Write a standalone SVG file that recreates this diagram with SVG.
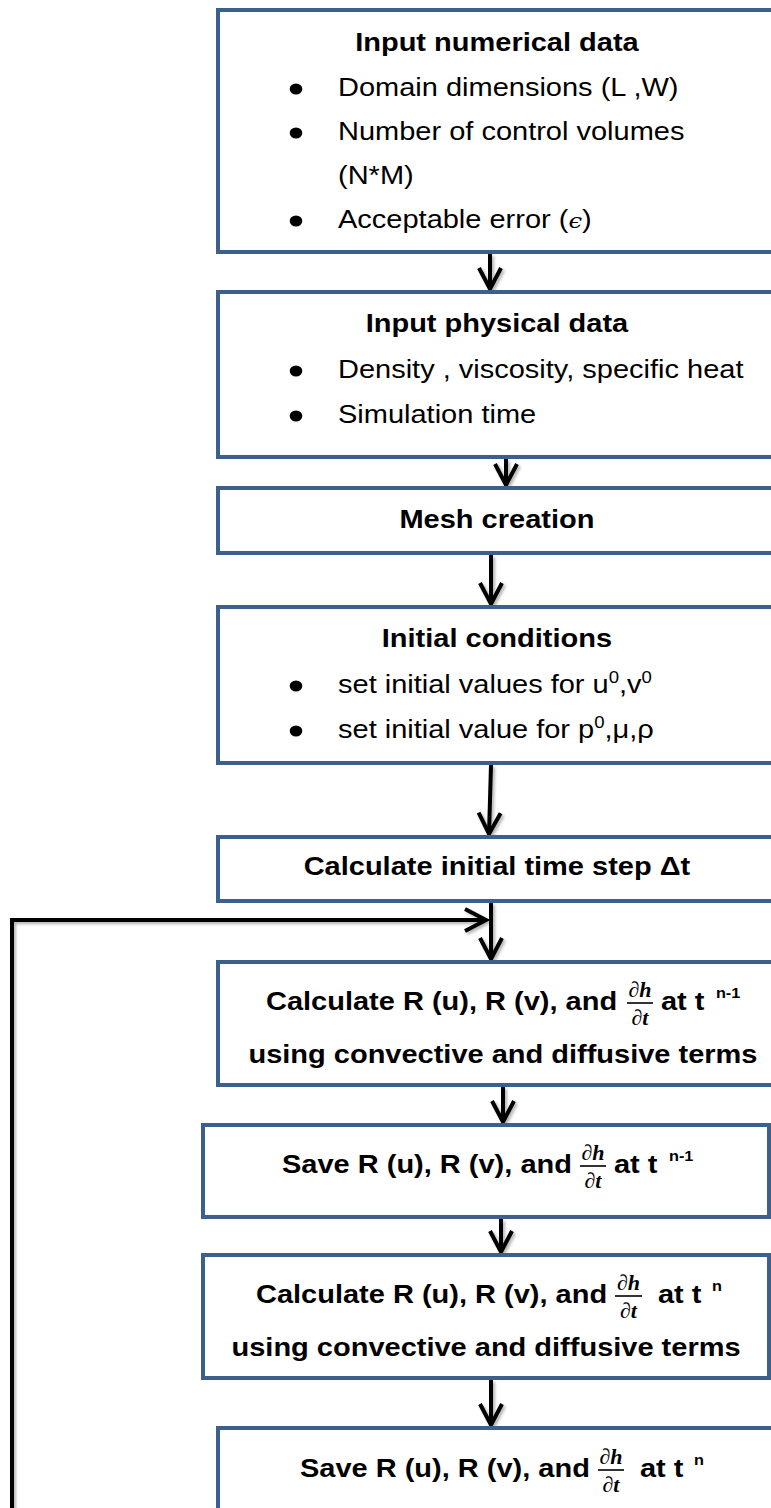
<svg xmlns="http://www.w3.org/2000/svg" width="771" height="1508" viewBox="0 0 771 1508">
  <style>
    .box{fill:#ffffff;stroke:#3c5f8c;stroke-width:4}
    .t{font-family:"Liberation Sans",Arial,sans-serif;font-size:25px;fill:#000}
    .b{font-weight:bold}
    .mid{text-anchor:middle}
    .dot{fill:#000}
    .sup{font-size:16px}
    .supb{font-size:14px;font-weight:bold}
    .m{font-family:"Liberation Serif","Times New Roman",serif;font-style:italic;font-weight:bold;font-size:22px;text-anchor:middle}
    .eps{font-family:"DejaVu Serif",serif;font-style:italic;font-size:21px}
    .bar{stroke:#000;stroke-width:1.6}
    .conn{fill:none;stroke:#000;stroke-width:4}
  </style>
  <defs>
    <marker id="arr" viewBox="-26 -15 30 30" refX="0" refY="0" markerWidth="30" markerHeight="30" markerUnits="userSpaceOnUse" orient="auto" overflow="visible">
      <path d="M-21,-11 L0,0 L-21,11" fill="none" stroke="#000" stroke-width="4"/>
    </marker>
    <filter id="sh" filterUnits="userSpaceOnUse" x="0" y="0" width="771" height="1508">
      <feDropShadow dx="2" dy="2" stdDeviation="1.5" flood-color="#000" flood-opacity="0.3"/>
    </filter>
  </defs>

  <!-- connectors -->
  <g id="connectors" filter="url(#sh)">
    <path class="conn" d="M490,254 L490,289" marker-end="url(#arr)"/>
    <path class="conn" d="M506,459 L506,485" marker-end="url(#arr)"/>
    <path class="conn" d="M491,555 L491,604" marker-end="url(#arr)"/>
    <path class="conn" d="M491,765 L489,834" marker-end="url(#arr)"/>
    <path class="conn" d="M491,903 L491,959" marker-end="url(#arr)"/>
    <path class="conn" d="M12,1510 L12,920 L486,920" marker-end="url(#arr)"/>
    <path class="conn" d="M503,1087 L503,1122" marker-end="url(#arr)"/>
    <path class="conn" d="M501,1219 L501,1252" marker-end="url(#arr)"/>
    <path class="conn" d="M491,1380 L491,1425" marker-end="url(#arr)"/>
  </g>

  <!-- input numerical data -->
  <g id="numerical">
    <rect class="box" x="218" y="10" width="600" height="242"/>
    <ellipse class="dot" cx="296" cy="89" rx="6.3" ry="5.6"/>
    <ellipse class="dot" cx="296" cy="133" rx="6.3" ry="5.6"/>
    <ellipse class="dot" cx="296" cy="221" rx="6.3" ry="5.6"/>
    <g transform="scale(1.16 1)">
      <text class="t b mid" x="428.4" y="51">Input numerical data</text>
      <text class="t" x="291.4" y="96">Domain dimensions (L ,W)</text>
      <text class="t" x="291.4" y="140">Number of control volumes</text>
      <text class="t" x="291.4" y="184">(N*M)</text>
      <text class="t" x="291.4" y="228">Acceptable error (<tspan class="eps">ϵ</tspan>)</text>
    </g>
  </g>

  <!-- input physical data -->
  <g id="physical">
    <rect class="box" x="218" y="292" width="600" height="165"/>
    <ellipse class="dot" cx="296" cy="371" rx="6.3" ry="5.6"/>
    <ellipse class="dot" cx="296" cy="416" rx="6.3" ry="5.6"/>
    <g transform="scale(1.16 1)">
      <text class="t b mid" x="428.4" y="332">Input physical data</text>
      <text class="t" x="291.4" y="378">Density , viscosity, specific heat</text>
      <text class="t" x="291.4" y="423">Simulation time</text>
    </g>
  </g>

  <!-- mesh -->
  <g id="mesh">
    <rect class="box" x="218" y="488" width="600" height="65"/>
    <g transform="scale(1.16 1)">
      <text class="t b mid" x="428.4" y="528">Mesh creation</text>
    </g>
  </g>

  <!-- initial conditions -->
  <g id="initial">
    <rect class="box" x="218" y="607" width="600" height="156"/>
    <ellipse class="dot" cx="296" cy="686" rx="6.3" ry="5.6"/>
    <ellipse class="dot" cx="296" cy="731" rx="6.3" ry="5.6"/>
    <g transform="scale(1.16 1)">
      <text class="t b mid" x="428.4" y="647">Initial conditions</text>
      <text class="t" x="291.4" y="693">set initial values for u<tspan class="sup" dy="-10">0</tspan><tspan dy="10">,v</tspan><tspan class="sup" dy="-10">0</tspan></text>
      <text class="t" x="291.4" y="738">set initial value for p<tspan class="sup" dy="-10">0</tspan><tspan dy="10">,μ,ρ</tspan></text>
    </g>
  </g>

  <!-- initial time step -->
  <g id="timestep">
    <rect class="box" x="218" y="837" width="600" height="64"/>
    <g transform="scale(1.16 1)">
      <text class="t b mid" x="428.4" y="875">Calculate initial time step Δt</text>
    </g>
  </g>

  <!-- residuals at n-1 -->
  <g id="calc-prev">
    <rect class="box" x="218" y="962" width="600" height="123"/>
    <g transform="scale(1.16 1)">
      <text class="t b" x="229.3" y="1010">Calculate R (u), R (v), and</text>
      <text class="t b" x="569.8" y="1010">at t</text>
      <text class="t supb" x="617.2" y="998">n-1</text>
      <text class="t b mid" x="433.6" y="1063">using convective and diffusive terms</text>
    </g>
    <text class="m" x="640" y="997">∂h</text>
    <line class="bar" x1="627" y1="1003" x2="653" y2="1003"/>
    <text class="m" x="640" y="1025">∂t</text>
  </g>

  <!-- save n-1 -->
  <g id="save-prev">
    <rect class="box" x="203" y="1125" width="566" height="92"/>
    <g transform="scale(1.16 1)">
      <text class="t b" x="243.1" y="1173">Save R (u), R (v), and</text>
      <text class="t b" x="529.3" y="1173">at t</text>
      <text class="t supb" x="576.7" y="1161">n-1</text>
    </g>
    <text class="m" x="593" y="1160">∂h</text>
    <line class="bar" x1="580" y1="1166" x2="606" y2="1166"/>
    <text class="m" x="593" y="1188">∂t</text>
  </g>

  <!-- residuals at n -->
  <g id="calc-cur">
    <rect class="box" x="203" y="1255" width="566" height="123"/>
    <g transform="scale(1.16 1)">
      <text class="t b" x="220.7" y="1303">Calculate R (u), R (v), and</text>
      <text class="t b" x="567.2" y="1303">at t</text>
      <text class="t supb" x="613.8" y="1291">n</text>
      <text class="t b mid" x="419" y="1356">using convective and diffusive terms</text>
    </g>
    <text class="m" x="628.5" y="1290">∂h</text>
    <line class="bar" x1="615" y1="1296" x2="642" y2="1296"/>
    <text class="m" x="628.5" y="1318">∂t</text>
  </g>

  <!-- save n -->
  <g id="save-cur">
    <rect class="box" x="218" y="1428" width="600" height="120"/>
    <g transform="scale(1.16 1)">
      <text class="t b" x="258.6" y="1477">Save R (u), R (v), and</text>
      <text class="t b" x="551.7" y="1477">at t</text>
      <text class="t supb" x="598.3" y="1465">n</text>
    </g>
    <text class="m" x="611" y="1464">∂h</text>
    <line class="bar" x1="598" y1="1470" x2="624" y2="1470"/>
    <text class="m" x="611" y="1492">∂t</text>
  </g>
</svg>
